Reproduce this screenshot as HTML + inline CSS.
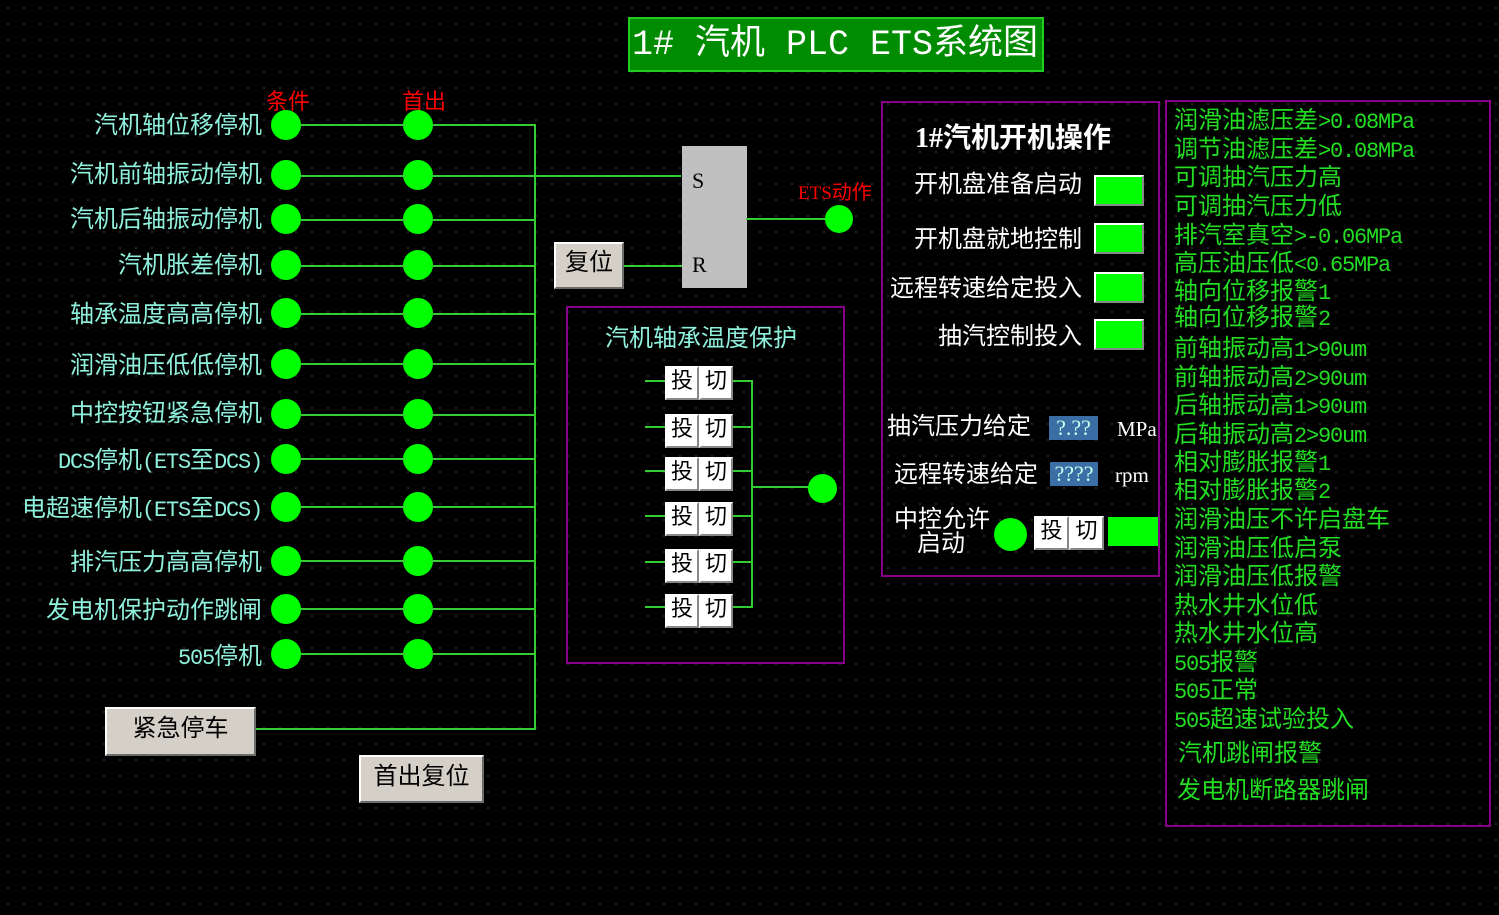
<!DOCTYPE html>
<html><head><meta charset="utf-8">
<style>
*{margin:0;padding:0;box-sizing:border-box}
body{width:1499px;height:915px;background:#000;position:relative;overflow:hidden;
background-image:radial-gradient(circle,#333 0.7px,transparent 1.1px);background-size:16px 16px;
font-family:"Liberation Mono","Noto Sans CJK SC",monospace;}
.a{position:absolute;white-space:nowrap}
.l{font-family:"Liberation Mono",monospace;font-size:22px;letter-spacing:-1.2px}
.lbl{color:#8ff0dc;font-size:24px;line-height:26px;text-align:right;width:300px}
.c{position:absolute;width:30px;height:30px;border-radius:50%;background:#00ff00}
.h{position:absolute;height:2px;background:#33cc33}
.v{position:absolute;width:2px;background:#33cc33}
.btn{position:absolute;background:#d4d0c8;border:2px solid;border-color:#fff #6c6c6c #6c6c6c #fff;color:#000;font-size:24px;text-align:center}
.tq{position:absolute;height:34px;width:68px;display:flex}
.tq div{flex:1;background:#fff;border:2px solid;border-color:#fff #888 #888 #fff;color:#000;font-size:22px;line-height:29px;text-align:center}
.gb{position:absolute;width:50px;height:31px;background:#00ff00;border:2px solid;border-color:#fff #888 #888 #fff}
.wl{color:#fff;font-size:24px;line-height:26px}
.li{color:#22dd22;font-size:24px;line-height:26px;left:1174px}
</style></head><body>

<div class="a" style="left:628px;top:17px;width:416px;height:55px;background:#008c00;border:2px solid #22cc22;color:#fff;font-size:35px;line-height:52px;padding-left:2px">1# 汽机 PLC ETS系统图</div>

<div class="a" style="left:266px;top:84px;color:#f00;font-size:22px">条件</div>
<div class="a" style="left:402px;top:84px;color:#f00;font-size:22px">首出</div>

<div class="a lbl" style="left:-38px;top:115px">汽机轴位移停机</div>
<div class="a lbl" style="left:-38px;top:164px">汽机前轴振动停机</div>
<div class="a lbl" style="left:-38px;top:209px">汽机后轴振动停机</div>
<div class="a lbl" style="left:-38px;top:255px">汽机胀差停机</div>
<div class="a lbl" style="left:-38px;top:304px">轴承温度高高停机</div>
<div class="a lbl" style="left:-38px;top:355px">润滑油压低低停机</div>
<div class="a lbl" style="left:-38px;top:403px">中控按钮紧急停机</div>
<div class="a lbl" style="left:-38px;top:450px"><span class="l">DCS</span>停机<span class="l">(ETS</span>至<span class="l">DCS)</span></div>
<div class="a lbl" style="left:-38px;top:498px">电超速停机<span class="l">(ETS</span>至<span class="l">DCS)</span></div>
<div class="a lbl" style="left:-38px;top:552px">排汽压力高高停机</div>
<div class="a lbl" style="left:-38px;top:600px">发电机保护动作跳闸</div>
<div class="a lbl" style="left:-38px;top:646px"><span class="l">505</span>停机</div>

<div class="c" style="left:271px;top:110px"></div><div class="c" style="left:403px;top:110px"></div><div class="h" style="left:301px;top:124px;width:105px"></div><div class="h" style="left:431px;top:124px;width:105px"></div>
<div class="c" style="left:271px;top:160px"></div><div class="c" style="left:403px;top:160px"></div><div class="h" style="left:301px;top:175px;width:105px"></div><div class="h" style="left:431px;top:175px;width:250px"></div>
<div class="c" style="left:271px;top:204px"></div><div class="c" style="left:403px;top:204px"></div><div class="h" style="left:301px;top:219px;width:105px"></div><div class="h" style="left:431px;top:219px;width:105px"></div>
<div class="c" style="left:271px;top:250px"></div><div class="c" style="left:403px;top:250px"></div><div class="h" style="left:301px;top:265px;width:105px"></div><div class="h" style="left:431px;top:265px;width:105px"></div>
<div class="c" style="left:271px;top:298px"></div><div class="c" style="left:403px;top:298px"></div><div class="h" style="left:301px;top:313px;width:105px"></div><div class="h" style="left:431px;top:313px;width:105px"></div>
<div class="c" style="left:271px;top:349px"></div><div class="c" style="left:403px;top:349px"></div><div class="h" style="left:301px;top:363px;width:105px"></div><div class="h" style="left:431px;top:363px;width:105px"></div>
<div class="c" style="left:271px;top:399px"></div><div class="c" style="left:403px;top:399px"></div><div class="h" style="left:301px;top:414px;width:105px"></div><div class="h" style="left:431px;top:414px;width:105px"></div>
<div class="c" style="left:271px;top:444px"></div><div class="c" style="left:403px;top:444px"></div><div class="h" style="left:301px;top:458px;width:105px"></div><div class="h" style="left:431px;top:458px;width:105px"></div>
<div class="c" style="left:271px;top:492px"></div><div class="c" style="left:403px;top:492px"></div><div class="h" style="left:301px;top:506px;width:105px"></div><div class="h" style="left:431px;top:506px;width:105px"></div>
<div class="c" style="left:271px;top:546px"></div><div class="c" style="left:403px;top:546px"></div><div class="h" style="left:301px;top:560px;width:105px"></div><div class="h" style="left:431px;top:560px;width:105px"></div>
<div class="c" style="left:271px;top:594px"></div><div class="c" style="left:403px;top:594px"></div><div class="h" style="left:301px;top:608px;width:105px"></div><div class="h" style="left:431px;top:608px;width:105px"></div>
<div class="c" style="left:271px;top:639px"></div><div class="c" style="left:403px;top:639px"></div><div class="h" style="left:301px;top:653px;width:105px"></div><div class="h" style="left:431px;top:653px;width:105px"></div>

<div class="v" style="left:534px;top:124px;height:606px"></div>
<div class="btn" style="left:105px;top:707px;width:151px;height:49px;line-height:44px">紧急停车</div>
<div class="h" style="left:256px;top:728px;width:280px"></div>
<div class="btn" style="left:359px;top:755px;width:125px;height:48px;line-height:43px">首出复位</div>

<div class="a" style="left:682px;top:146px;width:65px;height:142px;background:#c0c0c0"></div>
<div class="a" style="left:692px;top:168px;font-family:'Liberation Serif',serif;font-size:22px;color:#000">S</div>
<div class="a" style="left:692px;top:252px;font-family:'Liberation Serif',serif;font-size:22px;color:#000">R</div>
<div class="btn" style="left:554px;top:242px;width:70px;height:47px;line-height:42px">复位</div>
<div class="h" style="left:624px;top:265px;width:58px"></div>
<div class="h" style="left:746px;top:218px;width:82px"></div>
<div class="c" style="left:825px;top:205px;width:28px;height:28px"></div>
<div class="a" style="left:798px;top:176px;color:#f00;font-size:20px"><span style="font-family:'Liberation Serif',serif;font-size:19px">ETS</span>动作</div>

<div class="a" style="left:566px;top:306px;width:279px;height:358px;border:2px solid #8b008b"></div>
<div class="a" style="left:605px;top:318px;color:#8ff0dc;font-size:24px">汽机轴承温度保护</div>
<div class="tq" style="left:665px;top:366px"><div>投</div><div>切</div></div>
<div class="tq" style="left:665px;top:414px"><div>投</div><div>切</div></div>
<div class="tq" style="left:665px;top:457px"><div>投</div><div>切</div></div>
<div class="tq" style="left:665px;top:502px"><div>投</div><div>切</div></div>
<div class="tq" style="left:665px;top:549px"><div>投</div><div>切</div></div>
<div class="tq" style="left:665px;top:594px"><div>投</div><div>切</div></div>
<div class="h" style="left:645px;top:380px;width:20px"></div><div class="h" style="left:733px;top:380px;width:20px"></div>
<div class="h" style="left:645px;top:426px;width:20px"></div><div class="h" style="left:733px;top:426px;width:20px"></div>
<div class="h" style="left:645px;top:470px;width:20px"></div><div class="h" style="left:733px;top:470px;width:20px"></div>
<div class="h" style="left:645px;top:515px;width:20px"></div><div class="h" style="left:733px;top:515px;width:20px"></div>
<div class="h" style="left:645px;top:561px;width:20px"></div><div class="h" style="left:733px;top:561px;width:20px"></div>
<div class="h" style="left:645px;top:606px;width:20px"></div><div class="h" style="left:733px;top:606px;width:20px"></div>
<div class="v" style="left:751px;top:380px;height:228px"></div>
<div class="h" style="left:751px;top:486px;width:58px"></div>
<div class="c" style="left:808px;top:474px;width:29px;height:29px"></div>

<div class="a" style="left:881px;top:101px;width:279px;height:476px;border:2px solid #8b008b"></div>
<div class="a" style="left:915px;top:116px;color:#fff;font-size:28px;font-weight:bold"><span style="font-family:'Liberation Serif',serif">1#</span>汽机开机操作</div>
<div class="a wl" style="left:862px;top:174px;width:220px;text-align:right">开机盘准备启动</div>
<div class="a wl" style="left:862px;top:229px;width:220px;text-align:right">开机盘就地控制</div>
<div class="a wl" style="left:862px;top:278px;width:220px;text-align:right">远程转速给定投入</div>
<div class="a wl" style="left:862px;top:326px;width:220px;text-align:right">抽汽控制投入</div>
<div class="gb" style="left:1094px;top:175px"></div>
<div class="gb" style="left:1094px;top:223px"></div>
<div class="gb" style="left:1094px;top:272px"></div>
<div class="gb" style="left:1094px;top:319px"></div>
<div class="a wl" style="left:887px;top:416px">抽汽压力给定</div>
<div class="a" style="left:1049px;top:416px;width:49px;height:24px;background:#3a6ea5;color:#cfe;font-family:'Liberation Serif',serif;font-size:22px;line-height:24px;text-align:center">?.??</div>
<div class="a" style="left:1117px;top:417px;color:#fff;font-family:'Liberation Serif',serif;font-size:21px">MPa</div>
<div class="a wl" style="left:894px;top:464px">远程转速给定</div>
<div class="a" style="left:1050px;top:462px;width:48px;height:24px;background:#3a6ea5;color:#cfe;font-family:'Liberation Serif',serif;font-size:22px;line-height:24px;text-align:center">????</div>
<div class="a" style="left:1115px;top:463px;color:#fff;font-family:'Liberation Serif',serif;font-size:21px">rpm</div>
<div class="a wl" style="left:894px;top:509px">中控允许</div>
<div class="a wl" style="left:917px;top:533px">启动</div>
<div class="c" style="left:994px;top:518px;width:33px;height:33px"></div>
<div class="tq" style="left:1034px;top:516px;width:70px"><div>投</div><div>切</div></div>
<div class="a" style="left:1108px;top:517px;width:50px;height:29px;background:#00ff00"></div>

<div class="a" style="left:1165px;top:100px;width:326px;height:727px;border:2px solid #8b008b"></div>
<div class="a li" style="top:110px">润滑油滤压差<span class="l">&gt;0.08MPa</span></div>
<div class="a li" style="top:139px">调节油滤压差<span class="l">&gt;0.08MPa</span></div>
<div class="a li" style="top:167px">可调抽汽压力高</div>
<div class="a li" style="top:196px">可调抽汽压力低</div>
<div class="a li" style="top:225px">排汽室真空<span class="l">&gt;-0.06MPa</span></div>
<div class="a li" style="top:253px">高压油压低<span class="l">&lt;0.65MPa</span></div>
<div class="a li" style="top:281px">轴向位移报警<span class="l">1</span></div>
<div class="a li" style="top:307px">轴向位移报警<span class="l">2</span></div>
<div class="a li" style="top:338px">前轴振动高<span class="l">1&gt;90um</span></div>
<div class="a li" style="top:367px">前轴振动高<span class="l">2&gt;90um</span></div>
<div class="a li" style="top:395px">后轴振动高<span class="l">1&gt;90um</span></div>
<div class="a li" style="top:424px">后轴振动高<span class="l">2&gt;90um</span></div>
<div class="a li" style="top:452px">相对膨胀报警<span class="l">1</span></div>
<div class="a li" style="top:480px">相对膨胀报警<span class="l">2</span></div>
<div class="a li" style="top:509px">润滑油压不许启盘车</div>
<div class="a li" style="top:538px">润滑油压低启泵</div>
<div class="a li" style="top:566px">润滑油压低报警</div>
<div class="a li" style="top:595px">热水井水位低</div>
<div class="a li" style="top:623px">热水井水位高</div>
<div class="a li" style="top:652px"><span class="l">505</span>报警</div>
<div class="a li" style="top:680px"><span class="l">505</span>正常</div>
<div class="a li" style="top:709px"><span class="l">505</span>超速试验投入</div>
<div class="a li" style="top:743px;left:1178px">汽机跳闸报警</div>
<div class="a li" style="top:780px;left:1177px">发电机断路器跳闸</div>

</body></html>
